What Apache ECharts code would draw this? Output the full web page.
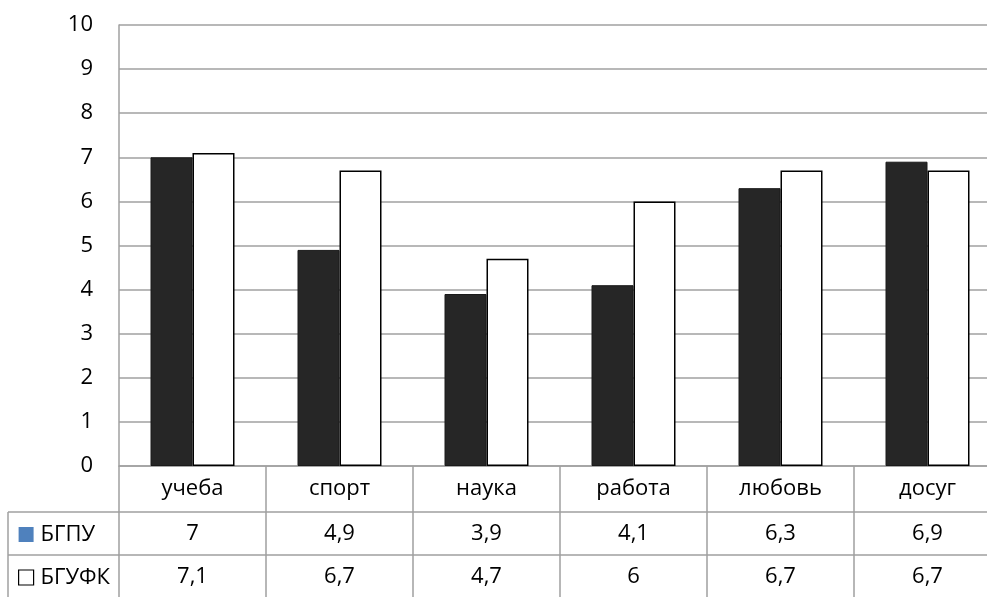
<!DOCTYPE html>
<html>
<head>
<meta charset="utf-8">
<script src="https://cdn.jsdelivr.net/npm/echarts@6/dist/echarts.min.js"></script>
<style>html,body{margin:0;padding:0;background:#fff;overflow:hidden;width:987px;height:597px}#c{width:1002px;height:597px}</style>
</head>
<body>
<div id="c"></div>
<script>
const categories = ['учеба', 'спорт', 'наука', 'работа', 'любовь', 'досуг'];
const seriesNames = ['БГПУ', 'БГУФК'];
const bgpu = [7, 4.9, 3.9, 4.1, 6.3, 6.9];
const bgufk = [7.1, 6.7, 4.7, 6, 6.7, 6.7];
const yTicks = [0, 1, 2, 3, 4, 5, 6, 7, 8, 9, 10];

const FONT = 'Open Sans';
const GRAY = '#a0a0a0';
const fmt = v => String(v).replace('.', ',');

const chart = echarts.init(document.getElementById('c'), null, {renderer: 'canvas'});
const valueAxis = (offset, values) => ({
  type: 'category', data: categories, position: 'bottom', offset: offset,
  axisLine: {show: true, lineStyle: {color: GRAY, width: 1.5}},
  axisTick: {show: false},
  splitLine: {show: false},
  axisLabel: {margin: 11, fontFamily: FONT, fontSize: 22, color: '#000',
    formatter: (v, i) => fmt(values[i])}
});
chart.setOption({
  animation: false,
  backgroundColor: '#fff',
  textStyle: {fontFamily: FONT},
  grid: {left: 119, top: 25, right: 1, bottom: 131, containLabel: false},
  legend: {
    orient: 'vertical', left: 18, top: 523, padding: 0, itemGap: 20,
    itemWidth: 15, itemHeight: 15, icon: 'rect',
    textStyle: {fontFamily: FONT, fontSize: 22, color: '#000', lineHeight: 23, padding: [0, 0, 0, 2]},
    data: [
      {name: seriesNames[0], itemStyle: {color: '#4f81bd', borderWidth: 0}},
      {name: seriesNames[1], itemStyle: {color: '#fff', borderColor: '#000', borderWidth: 1.2}}
    ]
  },
  xAxis: [
    {
      type: 'category', data: categories,
      axisLine: {show: true, lineStyle: {color: GRAY, width: 1.5}},
      axisTick: {show: true, length: 131, lineStyle: {color: GRAY, width: 1.5}},
      splitLine: {show: false},
      axisLabel: {margin: 12, fontFamily: FONT, fontSize: 22, color: '#000'}
    },
    valueAxis(46, bgpu),
    valueAxis(89, bgufk)
  ],
  yAxis: {
    type: 'value', min: 0, max: 10, interval: 1,
    axisLine: {show: true, lineStyle: {color: GRAY, width: 1.5}},
    axisTick: {show: false},
    splitLine: {show: true, lineStyle: {color: GRAY, width: 1.5}},
    axisLabel: {margin: 26, fontFamily: FONT, fontSize: 22, color: '#000',
      formatter: v => yTicks.includes(v) ? String(v) : ''}
  },
  series: [
    {name: seriesNames[0], type: 'bar', data: bgpu, barWidth: 42, barGap: '0%',
      itemStyle: {color: '#262626', borderColor: '#1a1a1a', borderWidth: 1}},
    {name: seriesNames[1], type: 'bar', data: bgufk, barWidth: 42, barGap: '0%',
      itemStyle: {color: '#fff', borderColor: '#000', borderWidth: 1.5}}
  ],
  graphic: [
    {type: 'line', shape: {x1: 8, y1: 512, x2: 119, y2: 512}, style: {stroke: GRAY, lineWidth: 1.5}},
    {type: 'line', shape: {x1: 8, y1: 555, x2: 119, y2: 555}, style: {stroke: GRAY, lineWidth: 1.5}},
    {type: 'line', shape: {x1: 8, y1: 512, x2: 8, y2: 597}, style: {stroke: GRAY, lineWidth: 1.5}}
  ]
});
</script>
</body>
</html>
